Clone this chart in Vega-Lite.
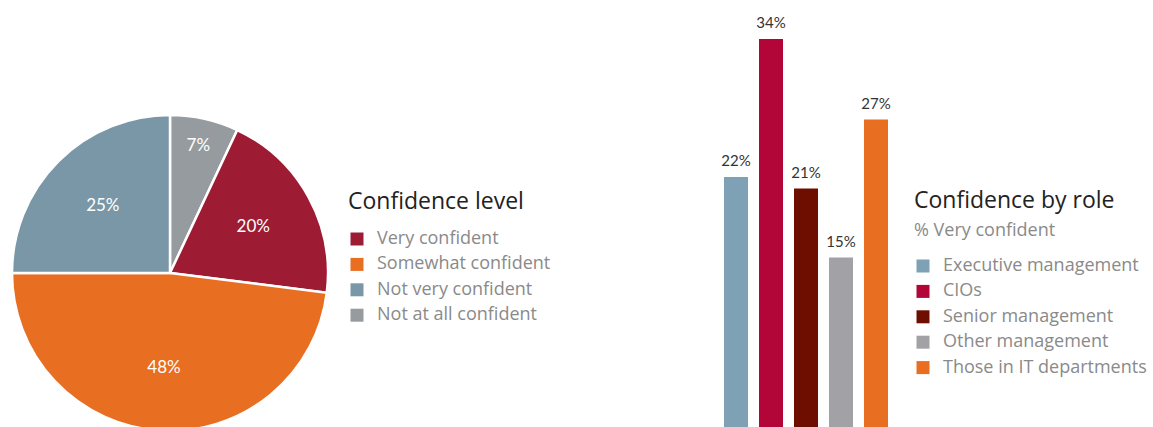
{
  "$schema": "https://vega.github.io/schema/vega-lite/v6.json",
  "padding": 0,
  "background": "white",
  "bounds": "flush",
  "spacing": 384,
  "config": {
    "view": {"stroke": null},
    "font": "Open Sans",
    "legend": {
      "symbolType": "square",
      "symbolSize": 169,
      "symbolStrokeWidth": 0,
      "labelFontSize": 18,
      "labelColor": "#8a8a8a",
      "labelFont": "Open Sans",
      "labelOffset": 11,
      "labelLimit": 400,
      "rowPadding": 7.4,
      "titleFontSize": 23,
      "titleFontWeight": "normal",
      "titleColor": "#222222",
      "titlePadding": 16,
      "titleLimit": 400
    }
  },
  "datasets": {
    "levels": [
      {"level": "Not at all confident", "pct": 0.07, "rank": 1},
      {"level": "Very confident", "pct": 0.20, "rank": 2},
      {"level": "Somewhat confident", "pct": 0.48, "rank": 3},
      {"level": "Not very confident", "pct": 0.25, "rank": 4}
    ],
    "roles": [
      {"role": "Executive management", "pct": 0.22},
      {"role": "CIOs", "pct": 0.34},
      {"role": "Senior management", "pct": 0.21},
      {"role": "Other management", "pct": 0.15},
      {"role": "Those in IT departments", "pct": 0.27}
    ]
  },
  "hconcat": [
    {
      "width": 340,
      "height": 546,
      "data": {"name": "levels"},
      "encoding": {
        "theta": {"field": "pct", "type": "quantitative", "stack": true},
        "order": {"field": "rank", "type": "quantitative"}
      },
      "layer": [
        {
          "mark": {"type": "arc", "outerRadius": 158, "stroke": "white", "strokeWidth": 2.5},
          "encoding": {
            "color": {
              "field": "level",
              "type": "nominal",
              "scale": {
                "domain": ["Very confident", "Somewhat confident", "Not very confident", "Not at all confident"],
                "range": ["#9e1c33", "#e86e22", "#7a97a8", "#959b9e"]
              },
              "legend": {
                "title": "Confidence level",
                "orient": "none",
                "legendX": 348,
                "legendY": 191
              }
            }
          }
        },
        {
          "mark": {"type": "text", "color": "white", "fontSize": 17, "font": "Lato", "radius": 95},
          "encoding": {
            "text": {
              "condition": {"test": "datum.pct >= 0.1", "field": "pct", "type": "quantitative", "format": ".0%"},
              "value": ""
            }
          }
        },
        {
          "mark": {"type": "text", "color": "white", "fontSize": 17, "font": "Lato", "radius": 130},
          "encoding": {
            "text": {
              "condition": {"test": "datum.pct < 0.1", "field": "pct", "type": "quantitative", "format": ".0%"},
              "value": ""
            }
          }
        }
      ]
    },
    {
      "width": 164,
      "height": 430,
      "data": {"name": "roles"},
      "title": {
        "text": "Confidence by role",
        "subtitle": "% Very confident",
        "anchor": "start",
        "frame": "group",
        "fontSize": 23,
        "fontWeight": "normal",
        "color": "#222222",
        "subtitleFontSize": 18,
        "subtitleColor": "#8a8a8a",
        "subtitlePadding": 9,
        "dx": 190,
        "dy": 244
      },
      "encoding": {
        "x": {
          "field": "role",
          "type": "nominal",
          "sort": null,
          "axis": null,
          "scale": {"paddingInner": 0.314, "paddingOuter": 0}
        },
        "y": {
          "field": "pct",
          "type": "quantitative",
          "axis": null,
          "scale": {"domain": [0, 0.374], "nice": false}
        }
      },
      "layer": [
        {
          "mark": {"type": "bar"},
          "encoding": {
            "color": {
              "field": "role",
              "type": "nominal",
              "sort": null,
              "scale": {
                "domain": ["Executive management", "CIOs", "Senior management", "Other management", "Those in IT departments"],
                "range": ["#7fa1b6", "#b20538", "#6e0e00", "#a2a1a6", "#e86e22"]
              },
              "legend": {
                "title": null,
                "orient": "none",
                "legendX": 190,
                "legendY": 257
              }
            }
          }
        },
        {
          "mark": {"type": "text", "baseline": "bottom", "dy": -8, "fontSize": 15, "color": "#333333", "font": "Lato"},
          "encoding": {"text": {"field": "pct", "type": "quantitative", "format": ".0%"}}
        }
      ]
    }
  ],
  "resolve": {"scale": {"color": "independent", "x": "independent", "y": "independent"}}
}
